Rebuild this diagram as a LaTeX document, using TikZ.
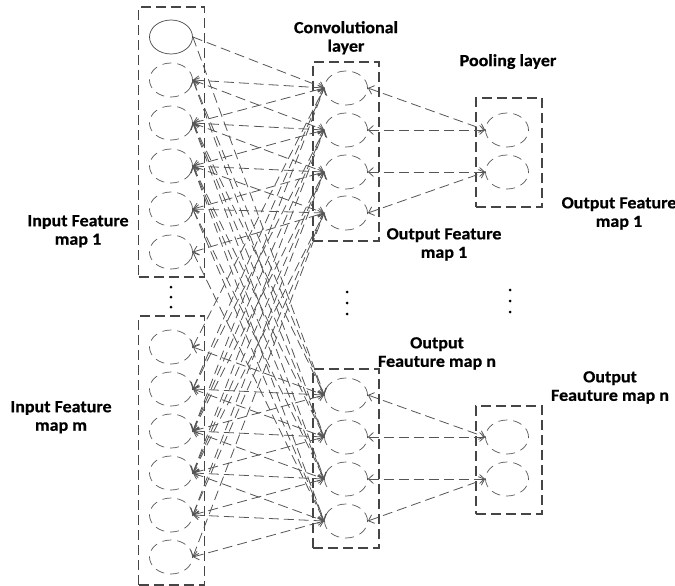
\documentclass[tikz,border=0pt]{standalone}
\usepackage{fontspec}
\newfontfamily\lblfont[FakeStretch=1.06,FakeBold=0.6]{Carlito}
\usetikzlibrary{shapes.geometric,arrows.meta}
\definecolor{boxgray}{HTML}{454545}
\definecolor{linegray}{HTML}{555555}
\begin{document}
\begin{tikzpicture}[x=1pt,y=-1pt,
  frame/.style={draw=boxgray, line width=1.2pt, dash pattern=on 10pt off 5pt,
    inner sep=0pt, minimum width=66pt},
  neuron/.style={ellipse, draw=linegray, line width=0.7pt, dash pattern=on 9pt off 6pt,
    minimum width=43pt, minimum height=34pt, inner sep=0pt},
  tip/.tip={Straight Barb[length=5pt,width=9pt,line width=0.8pt]},
  conn/.style={draw=linegray, line width=0.8pt, dash pattern=on 10pt off 5pt, tip-tip},
  connone/.style={draw=linegray, line width=0.8pt, dash pattern=on 10pt off 5pt, -tip},
  lbl/.style={font=\lblfont\bfseries\fontsize{17}{18.5}\selectfont, align=center,
    anchor=north, inner sep=0pt},
  dot/.style={circle, fill=black, inner sep=0pt, minimum size=3pt}]
\useasboundingbox (0,0) rectangle (675,586);

% dashed frames around each feature map
\node[frame, minimum height=270pt] (inA) at (171.5,142) {};
\node[frame, minimum height=269pt] (inB) at (171.5,450.5) {};
\node[frame, minimum height=179pt] (cvA) at (346,151.5) {};
\node[frame, minimum height=179pt] (cvB) at (346,458.5) {};
\node[frame, minimum height=109pt] (plA) at (509,152.5) {};
\node[frame, minimum height=108pt] (plB) at (509,460) {};

% neurons
\node[neuron, solid, draw=boxgray] (i1) at (171,37) {};
\foreach \k/\y in {2/80,3/123,4/166,5/209,6/252}
  \node[neuron] (i\k) at (171,\y) {};
\foreach \k/\y in {1/347,2/389,3/431,4/473,5/515,6/557}
  \node[neuron] (j\k) at (171,\y) {};
\foreach \k/\y in {1/88,2/130,3/172,4/213}
  \node[neuron] (c\k) at (346,\y) {};
\foreach \k/\y in {1/395,2/437,3/479,4/521}
  \node[neuron] (d\k) at (346,\y) {};
\node[neuron] (p1) at (507,130) {};
\node[neuron] (p2) at (507,172) {};
\node[neuron] (q1) at (507,437) {};
\node[neuron] (q2) at (507,479) {};

% three-wide kernels: every output neuron sees three neighbouring inputs of each map
\foreach \k in {1,...,4}
  \foreach \m in {0,1,2} {
    \pgfmathtruncatemacro\n{\k+\m}
    \ifnum\n=1
      \draw[connone] (i\n.east) -- (c\k.west);
      \draw[connone] (i\n.east) -- (d\k.west);
    \else
      \draw[conn] (i\n.east) -- (c\k.west);
      \draw[conn] (i\n.east) -- (d\k.west);
    \fi
    \draw[conn] (j\n.east) -- (c\k.west);
    \draw[conn] (j\n.east) -- (d\k.west);
  }

% pooling over pairs
\draw[conn] (c1.east) -- (p1.west);
\draw[conn] (c2.east) -- (p1.west);
\draw[conn] (c3.east) -- (p2.west);
\draw[conn] (c4.east) -- (p2.west);
\draw[conn] (d1.east) -- (q1.west);
\draw[conn] (d2.east) -- (q1.west);
\draw[conn] (d3.east) -- (q2.west);
\draw[conn] (d4.east) -- (q2.west);

% vertical ellipses between the maps
\foreach \y [count=\n] in {287,297,307} \node[dot] (da\n) at (171,\y) {};
\foreach \y [count=\n] in {292,303,314} \node[dot] (db\n) at (347,\y) {};
\foreach \y [count=\n] in {290,301,312} \node[dot] (dc\n) at (510,\y) {};

% labels
\node[lbl] (tconv) at (346,21) {Convolutional\\layer};
\node[lbl] (tpool) at (508,54) {Pooling layer};
\node[lbl] (tofa) at (444,228) {Output Feature\\map 1};
\node[lbl] (tofb) at (619,197) {Output Feature\\map 1};
\node[lbl] (tona) at (437,337) {Output\\Feauture map n};
\node[lbl] (tonb) at (610,371) {Output\\Feauture map n};
\node[lbl] (tina) at (78,215) {Input Feature\\map 1};
\node[lbl] (tinb) at (61,401) {Input Feature\\map m};
\end{tikzpicture}
\end{document}
